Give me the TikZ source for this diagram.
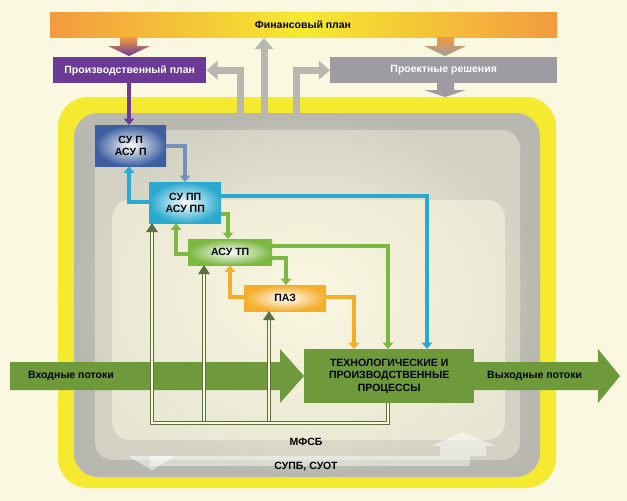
\documentclass[tikz,border=0pt]{standalone}
\usepackage{fontspec}
\setmainfont{Liberation Sans}
\usetikzlibrary{arrows.meta,calc}
\definecolor{bg}{HTML}{FAF8E0}
\definecolor{fyel}{HTML}{F5EA30}
\definecolor{forg}{HTML}{F39A40}
\definecolor{purp}{HTML}{6B3A97}
\definecolor{pgray}{HTML}{9C9CA2}
\definecolor{agray}{HTML}{B8B8B0}
\definecolor{dblue}{HTML}{3D5FA0}
\definecolor{cyan1}{HTML}{2AAAD0}
\definecolor{lgreen}{HTML}{7CB842}
\definecolor{org}{HTML}{F4AE2A}
\definecolor{tgreen}{HTML}{6E9A3C}
\definecolor{olive}{HTML}{5E7040}
\begin{document}
\begin{tikzpicture}[x=1pt,y=-1pt,
  txt/.style={font=\bfseries\fontsize{10.5}{12.5}\selectfont,align=center,inner sep=0pt},
  box/.style={txt,draw=none,anchor=north west},
  arr/.style={line width=#1,-{Triangle[width=2.6*#1,length=1.6*#1]}},
  arr/.default=4pt,
  fb/.style={draw=olive,double=bg,double distance=1.6pt,line width=0.9pt}]
\useasboundingbox (0,0) rectangle (627,501);
\fill[bg] (0,0) rectangle (627,501);
% frames
\fill[fyel,rounded corners=30pt] (58,97) rectangle (556,488);
\shade[rounded corners=24pt,inner color=bg,outer color=agray] (74,113) rectangle (540,477);
\fill[bg,rounded corners=18pt,opacity=0.55] (112,200) rectangle (505,440);
\fill[bg,rounded corners=18pt,opacity=0.4] (95,130) rectangle (520,460);
% financial plan
\shade[left color=forg,right color=forg,middle color=fyel] (50,12) rectangle (557,37);
\node[txt] (fin) at (303,24.5) {Финансовый план};
% arrows from fin plan
\shade[top color=forg,bottom color=purp] (120,37) rectangle (137,46) (108,46) -- (150,46) -- (129,56) -- cycle;
\shade[top color=forg,bottom color=pgray] (437,37) rectangle (454,46) (424,46) -- (466,46) -- (445,56) -- cycle;
\node[box,fill=purp,text=white,minimum width=153pt,minimum height=26pt] (pp) at (53,57) {Производственный план};
\node[box,fill=pgray,text=white,minimum width=227pt,minimum height=26pt] (pr) at (330,57) {Проектные решения};
\fill[pgray] (437,83) rectangle (454,90) (424,90) -- (466,90) -- (445,97) -- cycle;
% gray arrows
\coordinate (g1) at (240,118); \coordinate (g2) at (264,118); \coordinate (g3) at (296,118);
\draw[arr=7pt,agray] (g1) |- (pp.east);
\draw[arr=7pt,agray] (g2) -- (264,38);
\draw[arr=7pt,agray] (g3) |- (pr.west);
% boxes
\node[box,inner color=white,outer color=dblue,minimum width=71pt,minimum height=41pt] (sup) at (95,125) {СУ П\\АСУ П};
\node[box,inner color=white,outer color=cyan1,minimum width=72pt,minimum height=41pt] (supp) at (149,182) {СУ ПП\\АСУ ПП};
\node[box,inner color=white,outer color=lgreen,minimum width=84pt,minimum height=26pt] (asutp) at (188,239) {АСУ ТП};
\node[box,inner color=white,outer color=org,minimum width=82pt,minimum height=26pt] (paz) at (244,285) {ПАЗ};
\node[box,fill=tgreen,minimum width=170pt,minimum height=54pt] (tp) at (304,349) {ТЕХНОЛОГИЧЕСКИЕ И\\ПРОИЗВОДСТВЕННЫЕ\\ПРОЦЕССЫ};
% in/out arrows
\fill[tgreen] (10,362) -- (280,362) -- (280,349) -- (304,376) -- (280,403) -- (280,390) -- (10,390) -- cycle;
\node[txt,anchor=west] (in) at (28,376) {Входные потоки};
\fill[tgreen] (474,362) -- (598,362) -- (598,349) -- (620,376) -- (598,403) -- (598,390) -- (474,390) -- cycle;
\node[txt,anchor=west] (out) at (487,376) {Выходные потоки};
% control arrows
\draw[arr,purp] (pp.south -| 129,0) -- (sup.north -| 129,0);
\draw[arr,dblue!70!white] (sup.east |- 0,146) -| (supp.north -| 185,0);
\draw[arr,cyan1] (supp.west |- 0,202) -| (sup.south -| 129,0);
\draw[arr,cyan1] (supp.east |- 0,196) -| (tp.north -| 427,0);
\draw[arr,lgreen] (supp.east |- 0,214) -| (asutp.north -| 228,0);
\draw[arr,lgreen] (asutp.west |- 0,254) -| (supp.south -| 176,0);
\draw[arr,lgreen] (asutp.east |- 0,246) -| (tp.north -| 388,0);
\draw[arr,lgreen] (asutp.east |- 0,258) -| (paz.north -| 286,0);
\draw[arr,org] (paz.west |- 0,297) -| (asutp.south -| 230,0);
\draw[arr,org] (paz.east |- 0,297) -| (tp.north -| 354,0);
% feedback double lines
\coordinate (fbc) at (388,423);
\draw[fb] (tp.south -| fbc) -- (fbc) -- (152,423) -- (152,232);
\draw[fb] (204,421) -- (204,274);
\draw[fb] (269,421) -- (269,320);
\fill[olive] (146,232) -- (158,232) -- (152,223) -- cycle;
\fill[olive] (198,274) -- (210,274) -- (204,265) -- cycle;
\fill[olive] (263,320) -- (275,320) -- (269,311) -- cycle;
% bottom
\fill[white,opacity=0.45] (150,456) rectangle (470,466);
\fill[white,opacity=0.5] (128,456) -- (176,456) -- (152,470) -- cycle;
\fill[white,opacity=0.5] (440,456) rectangle (486,446) (430,446) -- (496,446) -- (463,432) -- cycle;
\node[txt] (mfsb) at (306,442) {МФСБ};
\node[txt] (supb) at (306,467) {СУПБ, СУОТ};
\end{tikzpicture}
\end{document}
